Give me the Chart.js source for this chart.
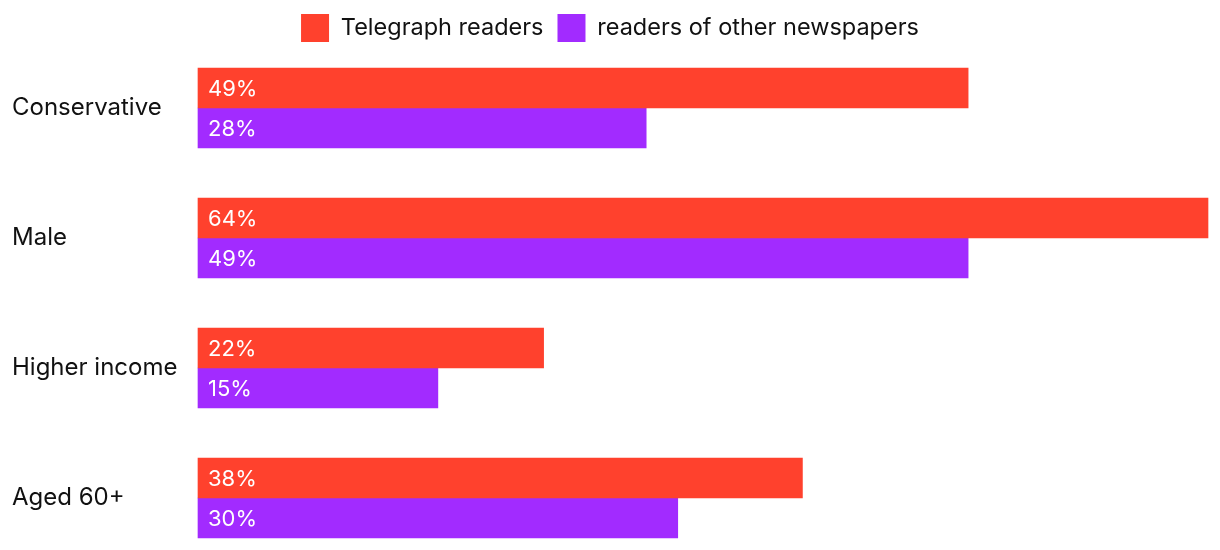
<!DOCTYPE html>
<html>
<head>
<meta charset="utf-8">
<script src="https://cdn.jsdelivr.net/npm/chart.js@4"></script>
<style>
  html, body { margin: 0; padding: 0; background: #fff; overflow: hidden; }
  #wrap { width: 1220px; height: 550px; position: relative; }
</style>
</head>
<body>
<div id="wrap"><canvas id="bars"></canvas></div>
<script>
const categories = ['Conservative', 'Male', 'Higher income', 'Aged 60+'];
const telegraphValues = [48.8, 64, 21.9, 38.3];
const otherValues = [28.4, 48.8, 15.2, 30.4];
const telegraphLabels = ['49%', '64%', '22%', '38%'];
const otherLabels = ['28%', '49%', '15%', '30%'];

const ctx = document.getElementById('bars');

// white % labels at the start of every bar
const barLabels = {
  id: 'barLabels',
  afterDatasetsDraw(chart) {
    const c = chart.ctx;
    c.save();
    c.fillStyle = '#ffffff';
    c.font = '22px Inter';
    c.textAlign = 'left';
    c.textBaseline = 'middle';
    chart.data.datasets.forEach((ds, i) => {
      chart.getDatasetMeta(i).data.forEach((bar, j) => {
        c.fillText(ds.valueLabels[j], bar.base + 10, bar.y + 1);
      });
    });
    c.restore();
  }
};

new Chart(ctx, {
  type: 'bar',
  data: {
    labels: categories,
    datasets: [{
      label: 'Telegraph readers',
      data: telegraphValues,
      valueLabels: telegraphLabels,
      backgroundColor: '#ff412d',
      barThickness: 40,
      clip: false
    }, {
      label: 'readers of other newspapers',
      data: otherValues,
      valueLabels: otherLabels,
      backgroundColor: '#a22bff',
      barThickness: 40,
      clip: false
    }]
  },
  options: {
    indexAxis: 'y',
    responsive: true,
    maintainAspectRatio: false,
    animation: false,
    layout: { padding: { left: 12, right: 12, top: 0, bottom: 52 } },
    scales: {
      x: {
        position: 'top',
        min: 0,
        max: 64,
        ticks: { display: false },
        grid: { display: false },
        border: { display: false },
        afterFit(scale) { scale.height = 56; }
      },
      y: {
        offset: false,
        grid: { display: false },
        border: { display: false },
        ticks: {
          crossAlign: 'far',
          color: '#111111',
          font: { family: 'Inter', size: 24 }
        },
        afterFit(scale) { scale.width = 186; }
      }
    },
    plugins: {
      legend: {
        position: 'top',
        labels: {
          boxWidth: 28,
          boxHeight: 28,
          padding: 14,
          color: '#111111',
          font: { family: 'Inter', size: 23.5 }
        }
      },
      tooltip: { enabled: false }
    }
  },
  plugins: [barLabels]
});
</script>
</body>
</html>
